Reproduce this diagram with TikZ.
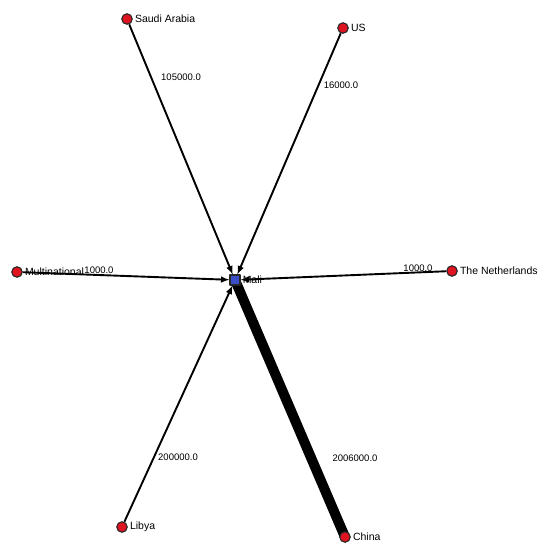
\documentclass[tikz,border=0pt]{standalone}
\usepackage{fontspec}
\setmainfont{Liberation Sans}
\usetikzlibrary{backgrounds}
\definecolor{nodered}{RGB}{222,20,32}
\definecolor{nodeblue}{RGB}{58,78,200}
\begin{document}
\begin{tikzpicture}[x=1pt,y=-1pt,line cap=round,line join=round,>=latex,
  country/.style={circle,draw=black!85,line width=1.1pt,fill=nodered,
    inner sep=0pt,minimum size=10.5pt,
    label={[font=\fontsize{10.5}{12}\selectfont,inner sep=0pt,label distance=2pt]right:#1}},
  hub/.style={rectangle,draw=black!85,line width=1.1pt,fill=nodeblue,
    inner sep=0pt,minimum size=10pt,
    label={[font=\fontsize{10.5}{12}\selectfont,inner sep=0pt,label distance=2pt]right:#1}},
  tie/.style={line width=1.9pt,-latex},
  weight/.style={font=\fontsize{9.5}{11}\selectfont,inner sep=0pt}]
  \useasboundingbox (0,0) rectangle (545,547);
  % nodes
  \node[hub=Mali] (mali) at (235,280) {};
  \node[country=Saudi Arabia] (sa) at (127,19) {};
  \node[country=US] (us) at (343,28) {};
  \node[country=Multinational] (mn) at (17,272) {};
  \node[country=The Netherlands] (nl) at (452,271) {};
  \node[country=Libya] (ly) at (122,527) {};
  \node[country=China] (cn) at (345,537) {};
  % ties into Mali
  \begin{scope}[on background layer]
    \draw[tie] (sa) -- (mali);
    \draw[tie] (us) -- (mali);
    \draw[tie] (mn) -- (mali);
    \draw[tie] (nl) -- (mali);
    \draw[tie] (ly) -- (mali);
    \draw[line width=10pt,line cap=butt] (cn.center) -- (mali.center);
  \end{scope}
  % weights
  \node[weight] (wsa) at (181,77) {105000.0};
  \node[weight] (wus) at (341,85) {16000.0};
  \node[weight] (wmn) at (99,270) {1000.0};
  \node[weight] (wnl) at (418,268) {1000.0};
  \node[weight] (wly) at (178,457) {200000.0};
  \node[weight] (wcn) at (355,458) {2006000.0};
\end{tikzpicture}
\end{document}
